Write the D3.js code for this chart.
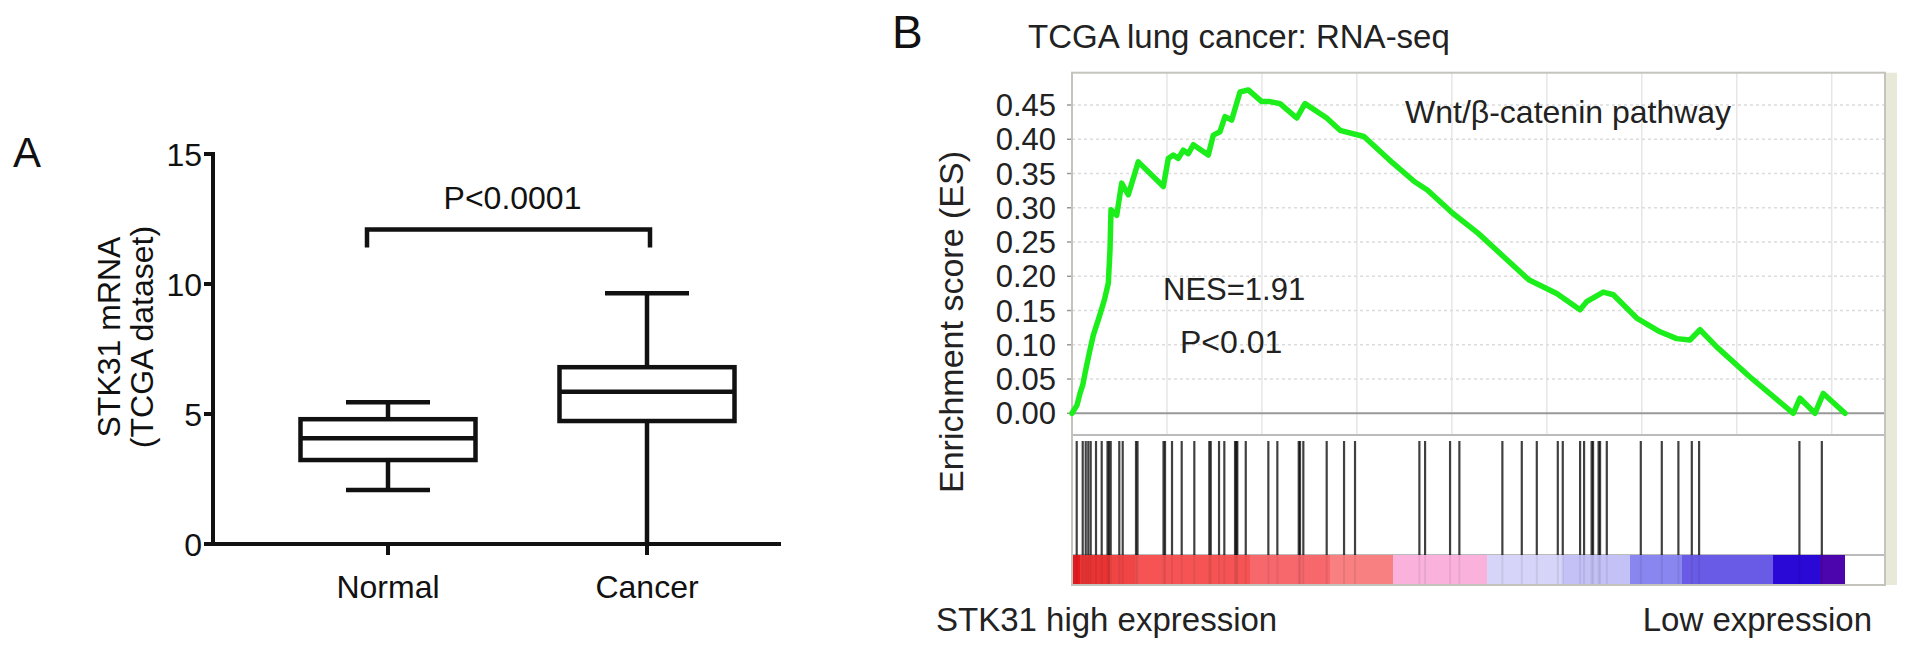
<!DOCTYPE html>
<html>
<head>
<meta charset="utf-8">
<script src="https://cdn.jsdelivr.net/npm/d3@7"></script>
<style>
  body { margin: 0; background: #fff; }
  svg { display: block; font-family: Arial, "Liberation Sans", Helvetica, sans-serif; }
</style>
</head>
<body>
<div id="chart"></div>
<script>
// ---- Panel A: box plot data ----
const groups = ["Normal", "Cancer"];
const whiskerLow = [2.08, 0];
const q1 = [3.23, 4.73];
const medians = [4.07, 5.86];
const q3 = [4.80, 6.80];
const whiskerHigh = [5.45, 9.64];
const yTicksA = [0, 5, 10, 15];
const bracketLevel = [11.4, 12.1];
const pTextA = "P<0.0001";

// ---- Panel B: GSEA enrichment plot data ----
const totalGenes = 20350;
const esTicks = [0, 0.05, 0.10, 0.15, 0.20, 0.25, 0.30, 0.35, 0.40, 0.45];
const rankGrid = [2500, 5000, 7500, 10000, 12500, 15000, 17500, 20000];
// running enrichment score (rank, ES)
const esRank = [0, 132, 211, 282, 342, 455, 561, 719, 850, 956, 1000, 1027, 1177, 1308, 1482, 1745,
  2404, 2535, 2667, 2798, 2930, 3062, 3193, 3588, 3720, 3896, 4028, 4204, 4423, 4641, 4994, 5213,
  5476, 5916, 6134, 6705, 7055, 7685, 8351, 9020, 9354, 10022, 10688, 11357, 12023, 12760, 13374,
  13550, 13987, 14250, 14866, 15480, 15919, 16269, 16533, 16972, 17849, 18989, 19165, 19560, 19779, 20350];
const esValue = [0, 0.012, 0.029, 0.041, 0.058, 0.088, 0.114, 0.141, 0.165, 0.190, 0.238, 0.297, 0.289, 0.336, 0.319, 0.367,
  0.331, 0.372, 0.377, 0.372, 0.384, 0.379, 0.392, 0.377, 0.406, 0.411, 0.433, 0.428, 0.469, 0.472, 0.455, 0.455,
  0.452, 0.431, 0.452, 0.431, 0.413, 0.404, 0.370, 0.338, 0.326, 0.292, 0.263, 0.229, 0.195, 0.175, 0.151,
  0.163, 0.177, 0.173, 0.139, 0.119, 0.109, 0.107, 0.122, 0.097, 0.053, 0.0, 0.022, 0.0, 0.029, 0.0];
// gene set members along the ranked list
const hitRanks = [124, 282, 361, 429, 492, 632, 782, 935, 974, 1019, 1245, 1335, 1685, 1725, 2409, 2449,
  2633, 2888, 3220, 3615, 3652, 3871, 4010, 4292, 4326, 4352, 4574, 5169, 5406, 5969, 6003, 6090,
  6705, 7162, 7451, 9145, 9295, 9953, 10198, 11330, 11841, 12236, 12789, 12920, 13376, 13481,
  13679, 13718, 13863, 13902, 14079, 14974, 15527, 15964, 16317, 16509, 19150, 19740];
// ranked list metric colour bar (segment end ranks and colours)
const barEnds = [211, 1000, 1659, 4686, 6792, 8451, 10925, 12926, 14690, 16059, 18455, 19692, 20350];
const barColors = ["#e31b1f", "#ea3434", "#f04545", "#f65454", "#f7686d", "#f98080", "#fab2dc",
  "#d6d4f8", "#c3c1f6", "#8986f0", "#6a5be6", "#2a08d6", "#4c05ac"];

const width = 1913, height = 655;
const svg = d3.select("#chart").append("svg")
  .attr("width", width)
  .attr("height", height);

// ================= Panel A =================
const yA = d3.scaleLinear().domain([0, 15]).range([544, 154]);
const xA = d3.scalePoint().domain(groups).range([388, 647]);
const axisLeftX = 213, axisRightX = 781;
const boxW = 175, capW = 84;
const gA = svg.append("g").attr("stroke", "#111").attr("fill", "none");

// axes
gA.append("line").attr("x1", axisLeftX).attr("x2", axisLeftX)
  .attr("y1", yA(15) - 2).attr("y2", yA(0) + 2).attr("stroke-width", 4);
gA.append("line").attr("x1", axisLeftX - 2).attr("x2", axisRightX)
  .attr("y1", yA(0)).attr("y2", yA(0)).attr("stroke-width", 4);
yTicksA.forEach(t => {
  gA.append("line").attr("x1", axisLeftX - 9).attr("x2", axisLeftX)
    .attr("y1", yA(t)).attr("y2", yA(t)).attr("stroke-width", 4);
  svg.append("text").attr("x", axisLeftX - 11).attr("y", yA(t))
    .attr("dy", "0.36em").attr("text-anchor", "end")
    .attr("font-size", "32px").attr("fill", "#111").text(t);
});
groups.forEach(g => {
  gA.append("line").attr("x1", xA(g)).attr("x2", xA(g))
    .attr("y1", yA(0)).attr("y2", yA(0) + 11).attr("stroke-width", 4);
  svg.append("text").attr("x", xA(g)).attr("y", 598)
    .attr("text-anchor", "middle").attr("font-size", "32px").attr("fill", "#111").text(g);
});

// boxes
groups.forEach((g, i) => {
  const cx = xA(g);
  const box = gA.append("g").attr("stroke-width", 4.5);
  box.append("line").attr("x1", cx).attr("x2", cx).attr("y1", yA(whiskerHigh[i])).attr("y2", yA(q3[i]));
  box.append("line").attr("x1", cx).attr("x2", cx).attr("y1", yA(q1[i])).attr("y2", yA(whiskerLow[i]));
  box.append("line").attr("x1", cx - capW / 2).attr("x2", cx + capW / 2)
    .attr("y1", yA(whiskerHigh[i])).attr("y2", yA(whiskerHigh[i]));
  if (whiskerLow[i] > 0) {
    box.append("line").attr("x1", cx - capW / 2).attr("x2", cx + capW / 2)
      .attr("y1", yA(whiskerLow[i])).attr("y2", yA(whiskerLow[i]));
  }
  box.append("rect").attr("x", cx - boxW / 2).attr("y", yA(q3[i]))
    .attr("width", boxW).attr("height", yA(q1[i]) - yA(q3[i]));
  box.append("line").attr("x1", cx - boxW / 2).attr("x2", cx + boxW / 2)
    .attr("y1", yA(medians[i])).attr("y2", yA(medians[i]));
});

// significance bracket
const bx1 = xA("Normal") - 21, bx2 = xA("Cancer") + 3;
gA.append("path")
  .attr("d", `M${bx1},${yA(bracketLevel[0])}V${yA(bracketLevel[1])}H${bx2}V${yA(bracketLevel[0])}`)
  .attr("stroke-width", 4.5);
svg.append("text").attr("x", (bx1 + bx2) / 2 + 4).attr("y", 209)
  .attr("text-anchor", "middle").attr("font-size", "32px").attr("fill", "#111").text(pTextA);

// axis title (two lines, rotated)
const yTitleA = svg.append("text").attr("transform", `translate(0,${337}) rotate(-90)`)
  .attr("text-anchor", "middle").attr("font-size", "32px").attr("fill", "#111");
yTitleA.append("tspan").attr("x", 0).attr("y", 120).text("STK31 mRNA");
yTitleA.append("tspan").attr("x", 0).attr("y", 153).text("(TCGA dataset)");

svg.append("text").attr("x", 13).attr("y", 167).attr("font-size", "42px").attr("fill", "#111").text("A");

// ================= Panel B =================
const frameL = 1072, frameR = 1885, frameT = 72.7, frameB = 585;
const esBottom = 435, hitTop = 441, barTop = 555;
const xB = d3.scaleLinear().domain([0, totalGenes]).range([frameL, 1845]);
const yB = d3.scaleLinear().domain([0, 0.45]).range([413.3, 105]);
const gB = svg.append("g");

// beige strip on the right + frame background
gB.append("rect").attr("x", frameR).attr("y", frameT).attr("width", 12).attr("height", frameB - frameT)
  .attr("fill", "#e9e9d9");
gB.append("rect").attr("x", frameL).attr("y", frameT).attr("width", frameR - frameL).attr("height", frameB - frameT)
  .attr("fill", "#fff");

// grid
rankGrid.forEach(r => {
  gB.append("line").attr("x1", xB(r)).attr("x2", xB(r)).attr("y1", frameT).attr("y2", esBottom)
    .attr("stroke", "#e6e6e6").attr("stroke-width", 1.5);
});
esTicks.filter(t => t > 0).forEach(t => {
  gB.append("line").attr("x1", frameL).attr("x2", frameR).attr("y1", yB(t)).attr("y2", yB(t))
    .attr("stroke", "#dcdcdc").attr("stroke-width", 1.5).attr("stroke-dasharray", "3,3");
});

// y axis ticks + labels
esTicks.forEach(t => {
  gB.append("line").attr("x1", frameL - 5).attr("x2", frameL).attr("y1", yB(t)).attr("y2", yB(t))
    .attr("stroke", "#999").attr("stroke-width", 1.5);
  gB.append("text").attr("x", 1056).attr("y", yB(t)).attr("dy", "0.36em")
    .attr("text-anchor", "end").attr("font-size", "31px").attr("fill", "#222")
    .text(d3.format(".2f")(t));
});

// zero line and panel dividers
gB.append("line").attr("x1", frameL).attr("x2", frameR).attr("y1", yB(0)).attr("y2", yB(0))
  .attr("stroke", "#999").attr("stroke-width", 2);
gB.append("line").attr("x1", frameL).attr("x2", frameR).attr("y1", esBottom).attr("y2", esBottom)
  .attr("stroke", "#bbb").attr("stroke-width", 2);
gB.append("line").attr("x1", frameL).attr("x2", frameR).attr("y1", barTop).attr("y2", barTop)
  .attr("stroke", "#bbb").attr("stroke-width", 2);

// hits
hitRanks.forEach(r => {
  gB.append("line").attr("x1", xB(r)).attr("x2", xB(r)).attr("y1", hitTop).attr("y2", barTop)
    .attr("stroke", "#000").attr("stroke-opacity", 0.75).attr("stroke-width", 2.2);
});

// colour bar
barEnds.forEach((end, i) => {
  const start = i === 0 ? 0 : barEnds[i - 1];
  gB.append("rect").attr("x", xB(start)).attr("y", barTop).attr("width", xB(end) - xB(start))
    .attr("height", frameB - barTop).attr("fill", barColors[i]);
});
hitRanks.forEach(r => {
  gB.append("line").attr("x1", xB(r)).attr("x2", xB(r)).attr("y1", barTop).attr("y2", frameB)
    .attr("stroke", "#000").attr("stroke-opacity", 0.07).attr("stroke-width", 2);
});

// frame
gB.append("rect").attr("x", frameL).attr("y", frameT).attr("width", frameR - frameL).attr("height", frameB - frameT)
  .attr("fill", "none").attr("stroke", "#c4c4bc").attr("stroke-width", 2);

// enrichment curve
const esPoints = esRank.map((r, i) => [r, esValue[i]]);
const line = d3.line().x(d => xB(d[0])).y(d => yB(d[1]));
gB.append("path").datum(esPoints).attr("d", line)
  .attr("fill", "none").attr("stroke", "#1bee1b").attr("stroke-width", 5.5)
  .attr("stroke-linejoin", "round").attr("stroke-linecap", "round");

// texts
gB.append("text").attr("x", 1405).attr("y", 123).attr("font-size", "32px").attr("fill", "#222")
  .text("Wnt/β-catenin pathway");
gB.append("text").attr("x", 1163).attr("y", 300).attr("font-size", "31px").attr("fill", "#222")
  .text("NES=1.91");
gB.append("text").attr("x", 1180).attr("y", 353).attr("font-size", "32px").attr("fill", "#222")
  .text("P<0.01");
gB.append("text").attr("x", 1028).attr("y", 48).attr("font-size", "33px").attr("fill", "#222")
  .text("TCGA lung cancer: RNA-seq");
gB.append("text").attr("x", 936).attr("y", 631).attr("font-size", "33px").attr("fill", "#222")
  .text("STK31 high expression");
gB.append("text").attr("x", 1872).attr("y", 631).attr("text-anchor", "end").attr("font-size", "33px").attr("fill", "#222")
  .text("Low expression");
gB.append("text").attr("transform", "translate(963,322) rotate(-90)").attr("text-anchor", "middle")
  .attr("font-size", "34px").attr("fill", "#222").text("Enrichment score (ES)");
svg.append("text").attr("x", 892).attr("y", 48).attr("font-size", "46px").attr("fill", "#111").text("B");
</script>
</body>
</html>
